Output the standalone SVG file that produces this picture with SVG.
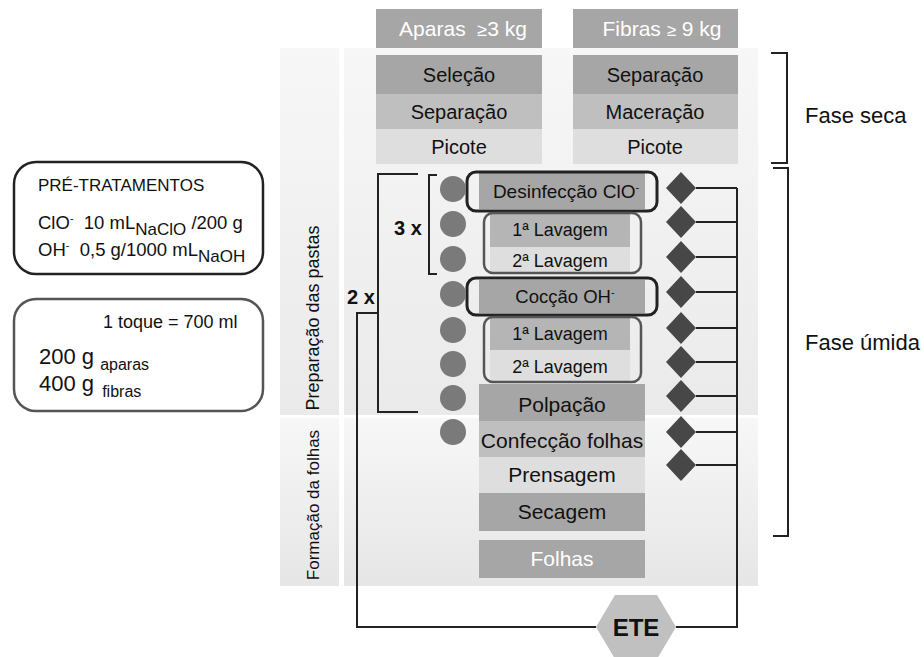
<svg xmlns="http://www.w3.org/2000/svg" width="924" height="657" viewBox="0 0 924 657">
<defs>
<linearGradient id="gUp" x1="0" y1="0" x2="0" y2="1"><stop offset="0" stop-color="#f7f7f7"/><stop offset="1" stop-color="#eaeaea"/></linearGradient>
<linearGradient id="gLo" x1="0" y1="0" x2="0" y2="1"><stop offset="0" stop-color="#f7f7f7"/><stop offset="1" stop-color="#e6e6e6"/></linearGradient>
<style>
text{font-family:"Liberation Sans",Arial,sans-serif;fill:#111;white-space:pre}
.w{fill:#fff}
.c{text-anchor:middle}
.ln{fill:none;stroke:#222;stroke-width:2}
.dot{fill:#7a7a7a}
.dia{fill:#474747}
.d1{fill:#a6a6a6}
.d2{fill:#bfbfbf}
.d3{fill:#dedede}
.ob{fill:none;stroke:#222;stroke-width:3}
.og{fill:none;stroke:#555;stroke-width:2.5}
.s{font-size:20px}
.m{font-size:18px}
.b{font-size:21px}
</style>
</defs>
<g id="background">
<rect x="280" y="48" width="59" height="367" fill="url(#gUp)"/>
<rect x="344" y="48" width="414" height="367" fill="url(#gUp)"/>
<rect x="280" y="418" width="59" height="168" fill="url(#gLo)"/>
<rect x="344" y="418" width="414" height="168" fill="url(#gLo)"/>
<text transform="translate(319,318) rotate(-90)" class="c" font-size="18" fill="#333">Preparação das pastas</text>
<text transform="translate(319,505) rotate(-90)" class="c" font-size="17" fill="#333">Formação da folhas</text>
</g>
<g id="pretratamentos">
<rect x="14" y="162" width="249" height="112" rx="22" fill="#fff" stroke="#222" stroke-width="2.5"/>
<text x="38" y="191" font-size="17">PRÉ-TRATAMENTOS</text>
<text x="38" y="229" font-size="18.5">ClO<tspan font-size="11" dy="-7">-</tspan><tspan dy="7">  10 mL</tspan><tspan font-size="17" dy="6">NaClO</tspan><tspan dy="-6"> /200 g</tspan></text>
<text x="38" y="256" font-size="18.5">OH<tspan font-size="11" dy="-7">-</tspan><tspan dy="7">  0,5 g/1000 mL</tspan><tspan font-size="17" dy="6">NaOH</tspan></text>
</g>
<g id="toque">
<rect x="14" y="299" width="249" height="112" rx="22" fill="#fff" stroke="#555" stroke-width="2.5"/>
<text x="103" y="328" font-size="18">1 toque = 700 ml</text>
<text x="39" y="364" font-size="22">200 g <tspan font-size="16" dy="6">aparas</tspan></text>
<text x="39" y="391" font-size="22">400 g <tspan font-size="16" dx="2" dy="6">fibras</tspan></text>
</g>
<g id="aparas">
<rect x="376" y="9" width="166" height="39" class="d1"/>
<text x="463" y="36" class="c w" font-size="21">Aparas  <tspan font-size="18">≥</tspan>3 kg</text>
<rect x="376" y="55" width="166" height="39" class="d1"/>
<text x="459" y="82" class="c s">Seleção</text>
<rect x="376" y="94" width="166" height="35" class="d2"/>
<text x="459" y="118.5" class="c s">Separação</text>
<rect x="376" y="129" width="166" height="35" class="d3"/>
<text x="459" y="153.5" class="c s">Picote</text>
</g>
<g id="fibras">
<rect x="573" y="9" width="165" height="39" class="d1"/>
<text x="662" y="36" class="c w" font-size="21">Fibras <tspan font-size="17">≥</tspan> 9 kg</text>
<rect x="573" y="55" width="165" height="39" class="d1"/>
<text x="655" y="82" class="c s">Separação</text>
<rect x="573" y="94" width="165" height="35" class="d2"/>
<text x="655" y="118.5" class="c s">Maceração</text>
<rect x="573" y="129" width="165" height="35" class="d3"/>
<text x="655" y="153.5" class="c s">Picote</text>
</g>
<g id="desinfeccao">
<rect x="479" y="173" width="166" height="36" class="d1"/>
<rect x="467" y="172" width="190" height="39" rx="9" class="ob"/>
<text x="566" y="198" class="c" font-size="19">Desinfecção ClO<tspan font-size="11" dy="-7">-</tspan></text>
</g>
<g id="lavagem1">
<rect x="490" y="214" width="140" height="33" fill="#b5b5b5"/>
<rect x="490" y="247" width="140" height="26" class="d3"/>
<rect x="484" y="213" width="157" height="60" rx="9" class="og"/>
<text x="560" y="236" class="c m">1ª Lavagem</text>
<text x="560" y="267" class="c m">2ª Lavagem</text>
</g>
<g id="coccao">
<rect x="479" y="280" width="166" height="33" class="d1"/>
<rect x="467" y="278" width="190" height="37" rx="9" class="ob"/>
<text x="565" y="303" class="c" font-size="18.5">Cocção OH<tspan font-size="11" dy="-7">-</tspan></text>
</g>
<g id="lavagem2">
<rect x="490" y="318" width="140" height="32" fill="#b5b5b5"/>
<rect x="490" y="350" width="140" height="31" class="d3"/>
<rect x="484" y="317" width="157" height="65" rx="9" class="og"/>
<text x="560" y="340" class="c m">1ª Lavagem</text>
<text x="560" y="373" class="c m">2ª Lavagem</text>
</g>
<g id="polpacao">
<rect x="479" y="384" width="166" height="37" class="d1"/>
<text x="562" y="412" class="c b">Polpação</text>
</g>
<g id="confeccao">
<rect x="479" y="421" width="166" height="36" class="d2"/>
<text x="562" y="448" class="c b">Confecção folhas</text>
</g>
<g id="prensagem">
<rect x="479" y="457" width="166" height="36" class="d3"/>
<text x="562" y="482" class="c b">Prensagem</text>
</g>
<g id="secagem">
<rect x="479" y="493" width="166" height="38" class="d1"/>
<text x="562" y="519" class="c b">Secagem</text>
</g>
<g id="folhas">
<rect x="479" y="540" width="166" height="38" class="d1"/>
<text x="562" y="566" class="c b w">Folhas</text>
</g>
<g id="circles">
<circle cx="453" cy="189" r="13" class="dot"/>
<circle cx="453" cy="224" r="13" class="dot"/>
<circle cx="453" cy="259" r="13" class="dot"/>
<circle cx="453" cy="294" r="13" class="dot"/>
<circle cx="453" cy="330" r="13" class="dot"/>
<circle cx="453" cy="364" r="13" class="dot"/>
<circle cx="453" cy="398" r="13" class="dot"/>
<circle cx="453" cy="432" r="13" class="dot"/>
</g>
<g id="connectors">
<path class="ln" d="M696 188H737M696 222H737M696 257H737M696 292H737M696 328H737M696 362H737M696 396H737M696 432H737M696 465H737M737 188V627H676"/>
<path class="ln" d="M596 627H357V313H378"/>
<path class="ln" d="M418 174H378V412H418"/>
<path class="ln" d="M437 175H429V274H437"/>
<path class="ln" d="M771 53H787V163H771"/>
<path class="ln" d="M773 168H788V536H773"/>
</g>
<g id="diamonds">
<polygon points="681,172 696,188 681,204 666,188" class="dia"/>
<polygon points="681,206 696,222 681,238 666,222" class="dia"/>
<polygon points="681,241 696,257 681,273 666,257" class="dia"/>
<polygon points="681,276 696,292 681,308 666,292" class="dia"/>
<polygon points="681,312 696,328 681,344 666,328" class="dia"/>
<polygon points="681,346 696,362 681,378 666,362" class="dia"/>
<polygon points="681,380 696,396 681,412 666,396" class="dia"/>
<polygon points="681,416 696,432 681,448 666,432" class="dia"/>
<polygon points="681,449 696,465 681,481 666,465" class="dia"/>
</g>
<g id="ete">
<polygon points="596,627 615,595 657,595 676,627 657,659 615,659" fill="#c0c0c0"/>
<text x="636" y="636" class="c" font-size="24" font-weight="bold">ETE</text>
</g>
<g id="labels">
<text x="394" y="235" font-size="20" font-weight="bold">3 x</text>
<text x="347" y="304" font-size="20" font-weight="bold">2 x</text>
<text x="805" y="123" font-size="22">Fase seca</text>
<text x="805" y="350" font-size="22">Fase úmida</text>
</g>
</svg>
